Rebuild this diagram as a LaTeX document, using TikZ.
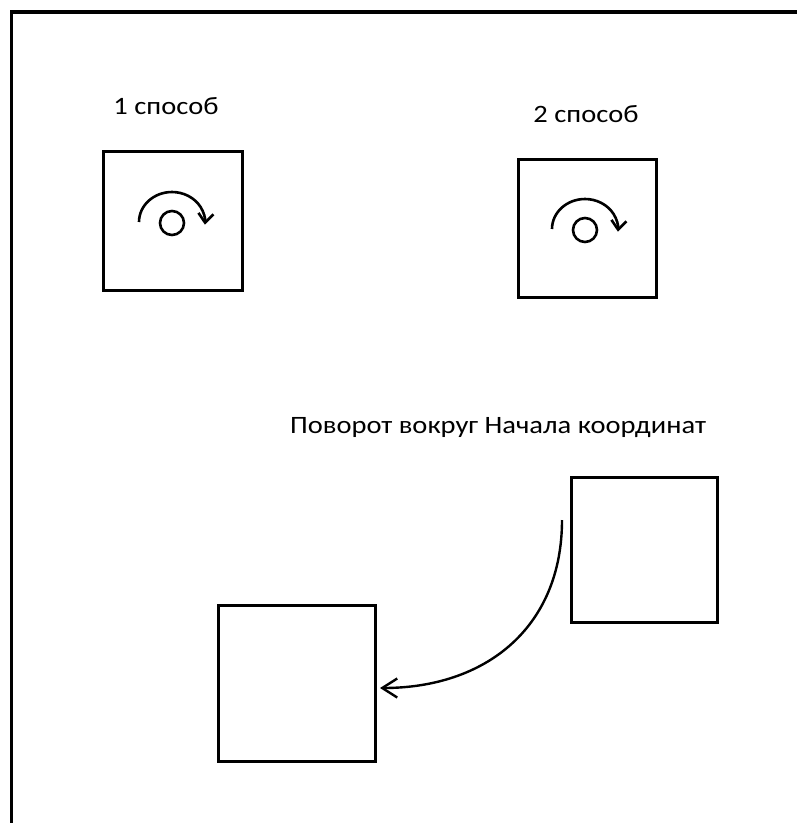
\documentclass[tikz,border=0pt]{standalone}
\usepackage{fontspec}
\setmainfont{Carlito}
\newfontfamily\widefont[FakeStretch=1.14]{Carlito}
\usetikzlibrary{arrows.meta}
\tikzset{
  sqbox/.style={draw, line width=3pt, rectangle, inner sep=0pt},
  axle/.style={draw, line width=2.6pt, circle, inner sep=0pt, minimum size=24pt},
  spin/.style={line width=2.6pt, -{Straight Barb[length=9pt,width=15pt]}},
  turn/.style={line width=2.4pt, -{Straight Barb[length=15pt,width=19pt]}},
  caption/.style={font=\widefont\fontsize{25}{30}\selectfont, inner sep=0pt}
}
\begin{document}
\begin{tikzpicture}[x=1pt,y=-1pt]
    \useasboundingbox (0,0) rectangle (797,823);
    \draw[line width=3.5pt] (11.5,823) -- (11.5,12) -- (797,12);
    % 1 способ
    \node[caption, anchor=base] (cap1) at (166,114) {1 способ};
    \node[sqbox, minimum width=139pt, minimum height=139pt] (box1) at (173,221) {};
    \node[axle] (ax1) at (172,223) {};
    \draw[spin] ([xshift=-33pt,yshift=1pt]ax1.center) arc[start angle=180, end angle=-5, x radius=33pt, y radius=30pt];
    % 2 способ
    \node[caption, anchor=base] (cap2) at (586,122) {2 способ};
    \node[sqbox, minimum width=138pt, minimum height=138pt] (box2) at (587.5,228.5) {};
    \node[axle] (ax2) at (585,230) {};
    \draw[spin] ([xshift=-33pt,yshift=1pt]ax2.center) arc[start angle=180, end angle=-5, x radius=33pt, y radius=30pt];
    % Поворот вокруг начала координат
    \node[caption, anchor=base west] (cap3) at (290,433) {Поворот вокруг Начала координат};
    \node[sqbox, minimum width=146pt, minimum height=145pt] (box3) at (644.5,550) {};
    \node[sqbox, minimum width=157pt, minimum height=156pt] (box4) at (297,683.5) {};
    \coordinate (rotstart) at (562,520);
    \draw[turn] (rotstart) to[out=-90, in=0, looseness=1.1] ([xshift=3pt,yshift=-4.5pt]box4.east);
\end{tikzpicture}
\end{document}
